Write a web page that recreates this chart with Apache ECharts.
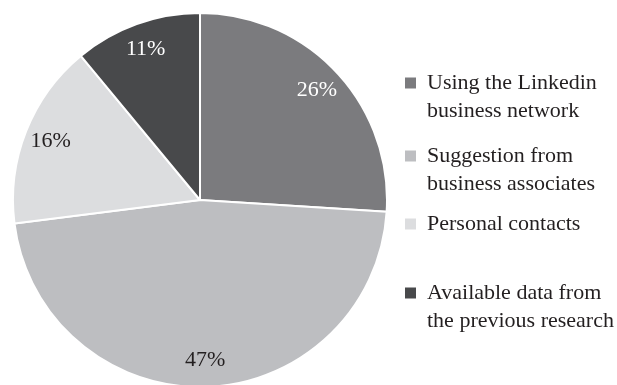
<!DOCTYPE html>
<html>
<head>
<meta charset="utf-8">
<script src="https://cdn.jsdelivr.net/npm/echarts@6/dist/echarts.min.js"></script>
<style>
  html, body { margin: 0; padding: 0; background: #fff; }
  #chart { width: 617px; height: 385px; }
</style>
</head>
<body>
<div id="chart"></div>
<script>
const names = [
  'Using the Linkedin\nbusiness network',
  'Suggestion from\nbusiness associates',
  'Personal contacts',
  'Available data from\nthe previous research'
]
const values = [26, 47, 16, 11]
const colors = ['#7b7b7e', '#bdbec1', '#dcdddf', '#48494b']
const labelColors = ['#ffffff', '#231f20', '#231f20', '#ffffff']
const legendTops = [39, 112, 208, 249]

const font = 'Liberation Serif'
const pieData = names.map((n, i) => ({
  name: n,
  value: values[i],
  itemStyle: { color: colors[i] },
  label: { color: labelColors[i] }
}))

// legend text is centred on the icon, so a blank first line keeps
// the icon level with the first real line of two-line entries
function legendText(name) {
  const lines = name.split('\n')
  if (lines.length > 1) lines.unshift(' ')
  return lines.map(l => '{t|' + l + '}').join('\n')
}

const legends = names.map((n, i) => ({
  data: [n],
  left: 398,
  top: legendTops[i],
  icon: 'rect',
  itemWidth: 13,
  itemHeight: 13,
  itemGap: 0,
  selectedMode: false,
  formatter: legendText,
  textStyle: {
    rich: {
      t: {
        fontFamily: font,
        fontSize: 22,
        color: '#231f20',
        lineHeight: 28,
        padding: [0, 0, 0, 5]
      }
    }
  }
}))

const chart = echarts.init(document.getElementById('chart'))
chart.setOption({
  animation: false,
  legend: legends,
  series: [
    {
      type: 'pie',
      center: [200, 200],
      radius: [0, 187],
      startAngle: 90,
      clockwise: true,
      silent: true,
      itemStyle: { borderColor: '#fff', borderWidth: 2 },
      label: { show: false },
      labelLine: { show: false },
      data: pieData
    },
    {
      // invisible ring used only to place the percentage labels
      type: 'pie',
      center: [200, 200],
      radius: [128, 187],
      startAngle: 90,
      clockwise: true,
      silent: true,
      legendHoverLink: false,
      itemStyle: { color: 'rgba(0,0,0,0)' },
      label: {
        show: true,
        position: 'inside',
        formatter: '{c}%',
        fontFamily: font,
        fontSize: 22
      },
      labelLine: { show: false },
      data: pieData.map(d => ({ name: d.name + ' ', value: d.value, label: d.label }))
    }
  ]
})
</script>
</body>
</html>
